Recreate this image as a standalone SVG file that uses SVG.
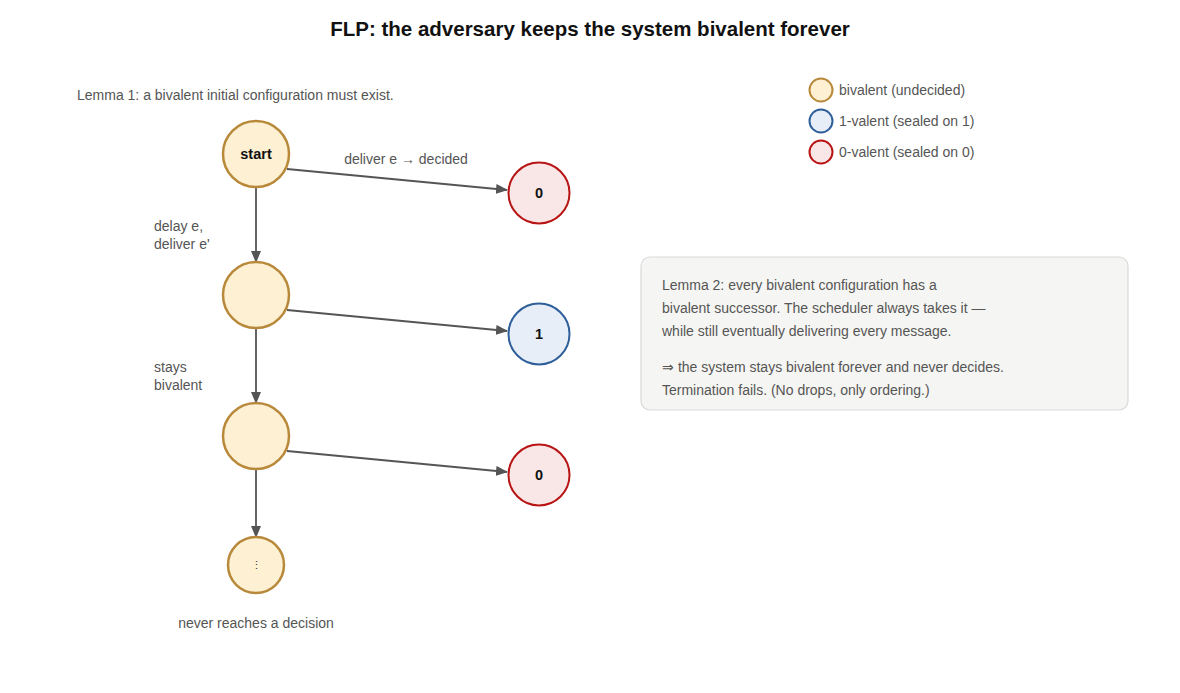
<svg xmlns="http://www.w3.org/2000/svg" width="1180" height="693" viewBox="0 0 1180 693">
<style>
text{font-family:"Liberation Sans",Arial,sans-serif}
.biv{fill:#fdf0d3;stroke:#b8893a;stroke-width:2.5}
.one{fill:#e7eef8;stroke:#2f5f9a;stroke-width:2}
.zero{fill:#f9e7e7;stroke:#b81414;stroke-width:2}
.lbl{font-size:14px;fill:#555}
.val{font-size:14.5px;font-weight:bold;fill:#111;text-anchor:middle}
.edge{stroke:#555;stroke-width:1.8;fill:none;marker-end:url(#ah)}
.note{font-size:14px;fill:#555}
</style>
<defs>
<marker id="ah" viewBox="0 0 12 10" refX="11" refY="5" markerWidth="12" markerHeight="10" markerUnits="userSpaceOnUse" orient="auto"><path d="M0,0L12,5L0,10z" fill="#555"/></marker>
</defs>
<rect width="1180" height="693" fill="#fff"/>
<text x="590" y="36" text-anchor="middle" font-size="20.5" font-weight="bold" fill="#111">FLP: the adversary keeps the system bivalent forever</text>
<text x="77" y="100" class="lbl">Lemma 1: a bivalent initial configuration must exist.</text>
<g id="connectors">
<line class="edge" x1="287" y1="169" x2="507" y2="190"/>
<line class="edge" x1="287" y1="310" x2="507" y2="331"/>
<line class="edge" x1="287" y1="451" x2="507" y2="472"/>
<line class="edge" x1="256" y1="187" x2="256" y2="262"/>
<line class="edge" x1="256" y1="328" x2="256" y2="403"/>
<line class="edge" x1="256" y1="469" x2="256" y2="537"/>
<text x="406" y="164" class="lbl" text-anchor="middle">deliver e → decided</text>
<text x="154" y="231" class="lbl">delay e,</text>
<text x="154" y="249" class="lbl">deliver e'</text>
<text x="154" y="372" class="lbl">stays</text>
<text x="154" y="390" class="lbl">bivalent</text>
</g>
<g id="start"><circle class="biv" cx="256" cy="154" r="33"/><text x="256" y="159" class="val">start</text></g>
<g id="b2"><circle class="biv" cx="256" cy="295" r="33"/></g>
<g id="b3"><circle class="biv" cx="256" cy="436" r="33"/></g>
<g id="more"><circle class="biv" cx="256" cy="565" r="28"/><text x="256" y="569" font-size="11" text-anchor="middle" fill="#333">⋮</text></g>
<text x="256" y="628" class="lbl" text-anchor="middle">never reaches a decision</text>
<g id="d0a"><circle class="zero" cx="539" cy="193" r="30.5"/><text x="539" y="198" class="val">0</text></g>
<g id="d1"><circle class="one" cx="539" cy="334" r="30.5"/><text x="539" y="339" class="val">1</text></g>
<g id="d0b"><circle class="zero" cx="539" cy="475" r="30.5"/><text x="539" y="480" class="val">0</text></g>
<g id="legend">
<circle class="biv" cx="821" cy="90" r="11.5" style="stroke-width:2"/><text x="839" y="95" class="lbl">bivalent (undecided)</text>
<circle class="one" cx="821" cy="121" r="11.5"/><text x="839" y="126" class="lbl">1-valent (sealed on 1)</text>
<circle class="zero" cx="821" cy="152" r="11.5"/><text x="839" y="157" class="lbl">0-valent (sealed on 0)</text>
</g>
<g id="lemma2">
<rect x="641" y="257" width="487" height="153" rx="9" fill="#f5f5f3" stroke="#d9d9d9" stroke-width="1.2"/>
<text x="662" y="290" class="note">Lemma 2: every bivalent configuration has a</text>
<text x="662" y="313" class="note">bivalent successor. The scheduler always takes it —</text>
<text x="662" y="336" class="note">while still eventually delivering every message.</text>
<text x="662" y="372" class="note">⇒ the system stays bivalent forever and never decides.</text>
<text x="662" y="395" class="note">Termination fails. (No drops, only ordering.)</text>
</g>
</svg>
